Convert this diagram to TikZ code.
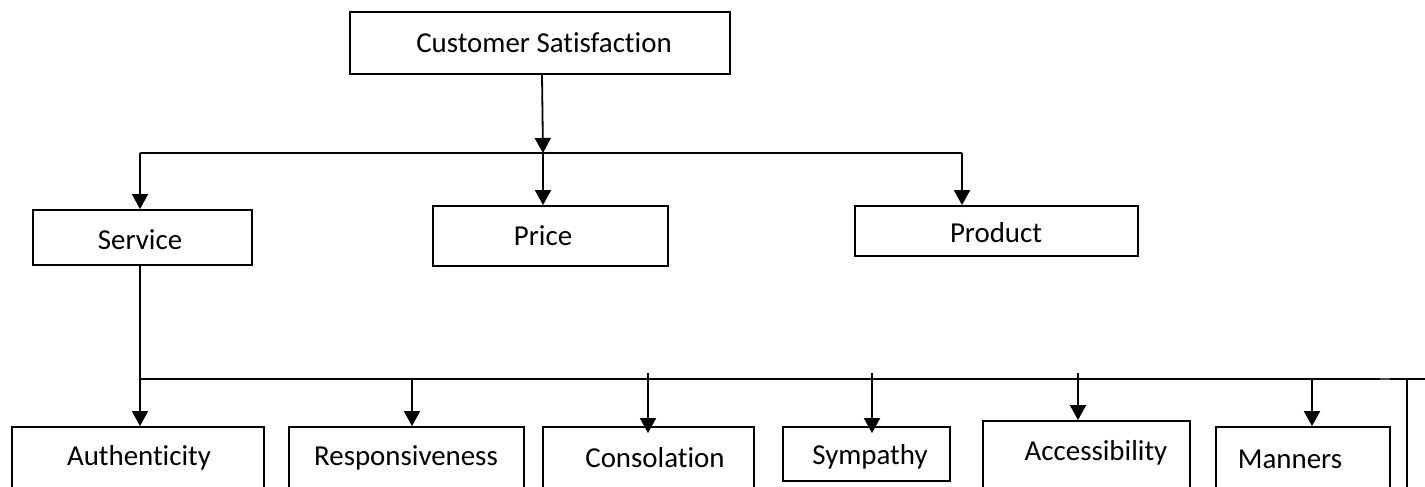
\documentclass[tikz,border=0pt]{standalone}
\usepackage{fontspec}
\setmainfont{Carlito}[Ligatures=CommonOff]
\usetikzlibrary{arrows.meta}
\begin{document}
\begin{tikzpicture}[x=1bp,y=-1bp,
  box/.style={draw, line width=1.8bp, inner sep=0pt, minimum width=#1},
  txt/.style={font=\fontsize{29}{34}\selectfont, inner sep=0pt},
  conn/.style={line width=1.8bp},
  arr/.style={line width=1.8bp, -{Triangle[width=16bp,length=15bp]}}]
\useasboundingbox (0,0) rectangle (1425,487);
\begin{scope}
\clip (0,0) rectangle (1425,487);
% top level
\node[box=380bp, minimum height=62bp] (cs) at (540,43) {};
\node[txt] (cst) at (544,43) {Customer Satisfaction};
% second level
\node[box=219bp, minimum height=55bp] (serv) at (142.5,237.5) {};
\node[txt] (servt) at (140,240) {Service};
\node[box=235bp, minimum height=60bp] (price) at (550.5,236) {};
\node[txt] (pricet) at (543,236) {Price};
\node[box=283bp, minimum height=50bp] (prod) at (996.5,231) {};
\node[txt] (prodt) at (996,233) {Product};
% third level
\node[box=252bp, minimum height=70bp] (auth) at (138,462) {};
\node[txt] (autht) at (139,458) {Authenticity};
\node[box=235bp, minimum height=70bp] (resp) at (406.5,462) {};
\node[txt] (respt) at (406,458) {Responsiveness};
\node[box=211bp, minimum height=70bp] (cons) at (648.5,462) {};
\node[txt] (const) at (655,458) {Consolation};
\node[box=167bp, minimum height=54bp] (symp) at (866.5,454) {};
\node[txt] (sympt) at (870,457) {Sympathy};
\node[box=207bp, minimum height=76bp] (acc) at (1086.5,459) {};
\node[txt] (acct) at (1096,453) {Accessibility};
\node[box=174bp, minimum height=70bp] (mann) at (1303,462) {};
\node[txt] (mannt) at (1290,459) {Manners};
% connector points
\coordinate (h1) at (543,153);
\coordinate (h1l) at (140,153);
\coordinate (h1r) at (962,153);
\coordinate (h2l) at (140,379);
\coordinate (h2r) at (1425,379);
\coordinate (r2) at (412,379);
\coordinate (c3) at (648,373);
\coordinate (s4) at (872,373);
\coordinate (a5) at (1078,373);
\coordinate (m6) at (1312,379);
\coordinate (d1) at (1380,379);
\coordinate (d2) at (1390,379);
\coordinate (v1) at (1407,379);
\coordinate (v2) at (1407,490);
% connectors
\draw[arr] ([xshift=2bp]cs.south) -- (h1);
\draw[conn] (h1l) -- (h1r);
\draw[arr] (h1l) -- (serv.north -| h1l);
\draw[arr] (h1) -- (price.north -| h1);
\draw[arr] (h1r) -- (prod.north -| h1r);
\draw[conn] (serv.south -| h2l) -- (h2l);
\draw[conn] (h2l) -- (h2r);
\draw[arr] (h2l) -- (auth.north -| h2l);
\draw[arr] (r2) -- (resp.north -| r2);
\draw[arr] (c3) -- ([yshift=-7bp]cons.north -| c3);
\draw[arr] (s4) -- ([yshift=-7bp]symp.north -| s4);
\draw[arr] (a5) -- (acc.north -| a5);
\draw[arr] (m6) -- (mann.north -| m6);
\draw[line width=2.8bp, black!70] (d1) -- (d2);
\draw[conn] (v1) -- (v2);
\end{scope}
\end{tikzpicture}
\end{document}
